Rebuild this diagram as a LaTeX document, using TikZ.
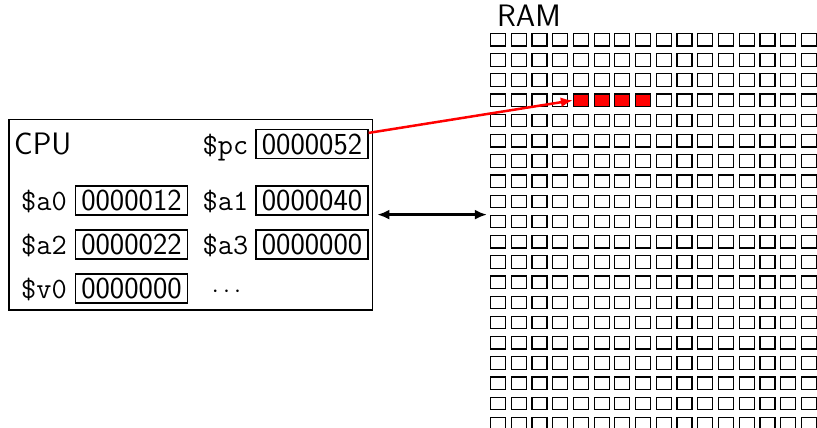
\documentclass[tikz,border=0pt]{standalone}
\usepackage{fontspec}
\usetikzlibrary{arrows.meta}
\tikzset{
  big/.style={font=\sffamily\fontsize{30.5}{36}\selectfont},
  reg/.style={big, draw, line width=1.2pt, minimum width=112pt, minimum height=29pt, inner sep=0pt},
  regname/.style={font=\ttfamily\fontsize{29.5}{34}\selectfont, inner sep=0pt, anchor=base east},
  cell/.style={draw, line width=1.2pt, minimum width=15pt, minimum height=12.5pt, inner sep=0pt},
  tip/.style={line width=2.5pt},
}
\begin{document}
\begin{tikzpicture}[x=1pt,y=-1pt]
\clip (0,0) rectangle (817,428);
% CPU
\node[draw, line width=1.2pt, minimum width=363.7pt, minimum height=190.7pt, inner sep=0pt] (cpu) at (190.85,214.65) {};
\node[font=\sffamily\fontsize{31}{36}\selectfont, anchor=base west, inner sep=0pt] (cpulbl) at (14,154) {CPU};
\node[font=\sffamily\fontsize{31}{36}\selectfont, anchor=base west, inner sep=0pt] (ramlbl) at (497,27) {RAM};
% registers
\node[reg] (pc) at (312,144) {0000052};
\node[reg] (a1) at (312,200.5) {0000040};
\node[reg] (a3) at (312,244.5) {0000000};
\node[reg] (a0) at (131.5,200.5) {0000012};
\node[reg] (a2) at (131.5,244.5) {0000022};
\node[reg] (v0) at (131.5,288.5) {0000000};
\node[regname] (pcn) at ([xshift=-7pt]pc.base west) {\$pc};
\node[regname] (a1n) at ([xshift=-7pt]a1.base west) {\$a1};
\node[regname] (a3n) at ([xshift=-7pt]a3.base west) {\$a3};
\node[regname] (a0n) at ([xshift=-8pt]a0.base west) {\$a0};
\node[regname] (a2n) at ([xshift=-8pt]a2.base west) {\$a2};
\node[regname] (v0n) at ([xshift=-8pt]v0.base west) {\$v0};
\coordinate (dotsx) at (226.5,0);
\node[font=\fontsize{26}{30}\selectfont, inner sep=0pt, anchor=base] (dots) at ([yshift=1pt]v0.base -| dotsx) {$\cdots$};
% RAM grid
\foreach \i in {0,...,15} {\foreach \j in {0,...,19} {
  \pgfmathtruncatemacro\isred{and(\j==3,and(\i>3,\i<8))}
  \ifnum\isred=1 \def\cellfill{red}\else\def\cellfill{none}\fi
  \node[cell, fill=\cellfill] (c-\j-\i) at (498+20.73*\i, 39.75+20.2*\j) {};
}}
% connectors
\draw[red, tip, -{Latex[length=12pt,width=10pt]}] ([yshift=-4pt]pc.north east) -- (c-3-4.west);
\draw[tip, {Latex[length=12pt,width=10pt]}-{Latex[length=12pt,width=10pt]}, shorten <=4pt, shorten >=3pt] (cpu.east) -- (cpu.east -| c-0-0.west);
\end{tikzpicture}
\end{document}
